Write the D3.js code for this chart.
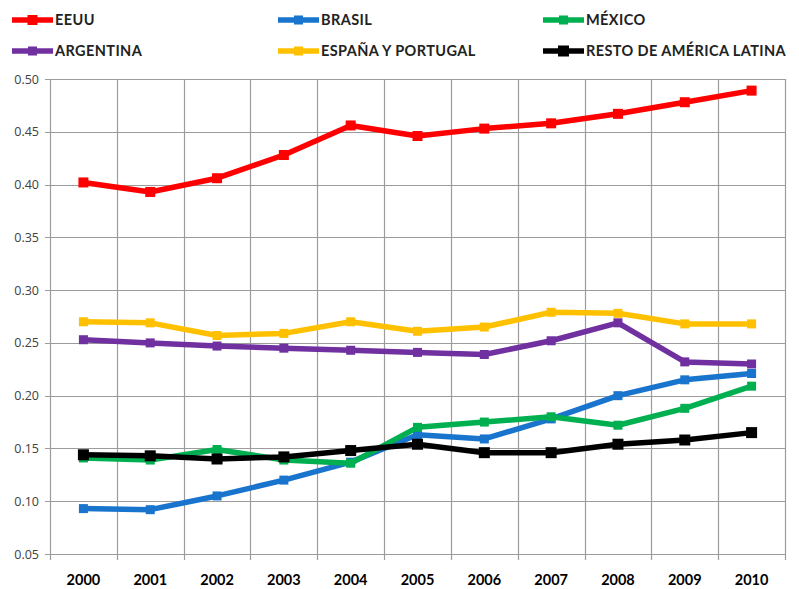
<!DOCTYPE html>
<html>
<head>
<meta charset="utf-8">
<script src="https://cdn.jsdelivr.net/npm/d3@7"></script>
<style>
  html, body { margin: 0; padding: 0; background: #fff; }
  svg { display: block; }
</style>
</head>
<body>
<svg id="chart" width="799" height="589"></svg>
<script>
// Years on the category axis
const years = ["2000", "2001", "2002", "2003", "2004", "2005", "2006", "2007", "2008", "2009", "2010"];

// Share by region, one array per series
const eeuu      = [0.402, 0.393, 0.406, 0.428, 0.456, 0.446, 0.453, 0.458, 0.467, 0.478, 0.489];
const brasil    = [0.093, 0.092, 0.105, 0.120, 0.137, 0.163, 0.159, 0.178, 0.200, 0.215, 0.221];
const mexico    = [0.141, 0.139, 0.149, 0.139, 0.136, 0.170, 0.175, 0.180, 0.172, 0.188, 0.209];
const argentina = [0.253, 0.250, 0.247, 0.245, 0.243, 0.241, 0.239, 0.252, 0.269, 0.232, 0.230];
const espana    = [0.270, 0.269, 0.257, 0.259, 0.270, 0.261, 0.265, 0.279, 0.278, 0.268, 0.268];
const resto     = [0.144, 0.143, 0.140, 0.142, 0.148, 0.154, 0.146, 0.146, 0.154, 0.158, 0.165];

const seriesNames = ["EEUU", "BRASIL", "MÉXICO", "ARGENTINA", "ESPAÑA Y PORTUGAL", "RESTO DE AMÉRICA LATINA"];

// Y-axis tick values
const yTicks = [0.05, 0.10, 0.15, 0.20, 0.25, 0.30, 0.35, 0.40, 0.45, 0.50];

const series = [
  { name: seriesNames[0], values: eeuu,      color: "#ff0000", marker: 10 },
  { name: seriesNames[1], values: brasil,    color: "#1874cd", marker: 9 },
  { name: seriesNames[2], values: mexico,    color: "#00b050", marker: 9 },
  { name: seriesNames[3], values: argentina, color: "#7030a0", marker: 9 },
  { name: seriesNames[4], values: espana,    color: "#ffc000", marker: 9 },
  { name: seriesNames[5], values: resto,     color: "#000000", marker: 11 }
];

const svg = d3.select("#chart");
const plot = { left: 50, right: 785, top: 79, bottom: 554 };

const x = d3.scaleBand().domain(years).range([plot.left, plot.right]).padding(0);
const y = d3.scaleLinear().domain([0.05, 0.50]).range([plot.bottom, plot.top]);

const gridColor = "#9c9c9c";

// Horizontal gridlines
svg.append("g")
  .selectAll("line")
  .data(yTicks)
  .join("line")
  .attr("x1", plot.left - 5).attr("x2", plot.right)
  .attr("y1", d => Math.round(y(d)) + 0.5).attr("y2", d => Math.round(y(d)) + 0.5)
  .attr("stroke", gridColor).attr("stroke-width", 1.2);

// Vertical gridlines on category boundaries
const bounds = years.map(d => x(d)).concat([x(years[years.length - 1]) + x.bandwidth()]);
svg.append("g")
  .selectAll("line")
  .data(bounds)
  .join("line")
  .attr("x1", d => Math.round(d) + 0.5).attr("x2", d => Math.round(d) + 0.5)
  .attr("y1", plot.top).attr("y2", plot.bottom + 6)
  .attr("stroke", gridColor).attr("stroke-width", 1.2);

// Y axis labels
const yAxis = d3.axisLeft(y).tickValues(yTicks).tickFormat(d3.format(".2f")).tickSize(0).tickPadding(11);
const gy = svg.append("g").attr("transform", `translate(${plot.left},0)`).call(yAxis);
gy.select(".domain").remove();
gy.selectAll("text")
  .attr("font-family", "'Open Sans', sans-serif")
  .attr("font-size", 12.5)
  .attr("fill", "#404040");

// X axis labels
const xAxis = d3.axisBottom(x).tickSize(0).tickPadding(21);
const gx = svg.append("g").attr("transform", `translate(0,${plot.bottom})`).call(xAxis);
gx.select(".domain").remove();
gx.selectAll("text")
  .attr("font-family", "Lato, sans-serif")
  .attr("font-weight", "bold")
  .attr("font-size", 14.5)
  .attr("fill", "#000");

// Series lines and markers
const line = d3.line()
  .x((d, i) => x(years[i]) + x.bandwidth() / 2)
  .y(d => y(d));

series.forEach(s => {
  const g = svg.append("g");
  g.append("path")
    .attr("d", line(s.values))
    .attr("fill", "none")
    .attr("stroke", s.color)
    .attr("stroke-width", 5.5)
    .attr("stroke-linejoin", "round");
  g.selectAll("rect")
    .data(s.values)
    .join("rect")
    .attr("x", (d, i) => x(years[i]) + x.bandwidth() / 2 - s.marker / 2)
    .attr("y", d => y(d) - s.marker / 2)
    .attr("width", s.marker)
    .attr("height", s.marker)
    .attr("fill", s.color);
});

// Legend: three columns, two rows
const legendCols = [12, 278, 543];
const legendRows = [20, 51];
const legend = svg.append("g");
series.forEach((s, i) => {
  const lx = legendCols[i % 3];
  const ly = legendRows[Math.floor(i / 3)];
  const item = legend.append("g").attr("transform", `translate(${lx},${ly})`);
  item.append("line")
    .attr("x1", 0).attr("x2", 41).attr("y1", 0).attr("y2", 0)
    .attr("stroke", s.color).attr("stroke-width", 5.5);
  item.append("rect")
    .attr("x", 20.5 - s.marker / 2).attr("y", -s.marker / 2)
    .attr("width", s.marker).attr("height", s.marker)
    .attr("fill", s.color);
  item.append("text")
    .attr("x", 43).attr("y", 0)
    .attr("dy", "0.36em")
    .attr("font-family", "Lato, sans-serif")
    .attr("font-weight", "bold")
    .attr("font-size", 14.5)
    .attr("letter-spacing", 0.4)
    .attr("fill", "#222")
    .text(s.name);
});
</script>
</body>
</html>
